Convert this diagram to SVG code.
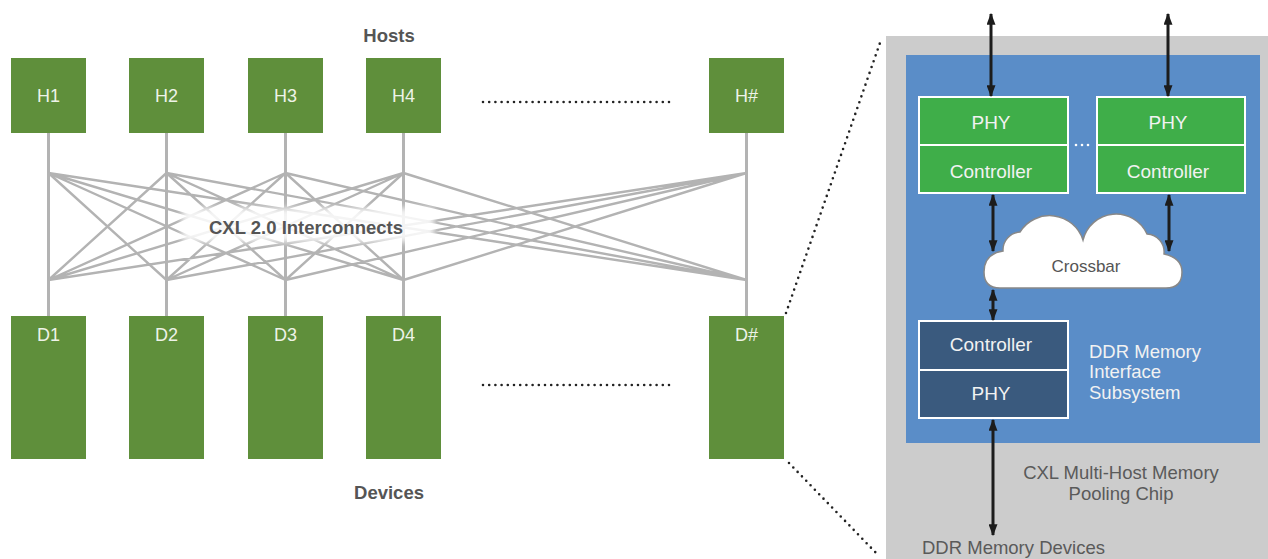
<svg xmlns="http://www.w3.org/2000/svg" width="1268" height="559" viewBox="0 0 1268 559">
<style>
.hb{fill:#5f8f3b}
.lbl{font-family:"Liberation Sans",Arial,sans-serif;font-size:18px;fill:#eef3e8;text-anchor:middle}
.hd{font-family:"Liberation Sans",Arial,sans-serif;font-size:18.5px;font-weight:bold;fill:#555;text-anchor:middle}
.vl{stroke:#b3b3b3;stroke-width:3;fill:none}
.dl{stroke:#b3b3b3;stroke-width:2.4;fill:none}
.dot{stroke:#222;stroke-width:2.6;stroke-linecap:round;stroke-dasharray:0 6.2;fill:none}
.arr{stroke:#1c1c1c;stroke-width:3;fill:none;marker-start:url(#ah);marker-end:url(#ah)}
.wt{font-family:"Liberation Sans",Arial,sans-serif;font-size:19px;fill:#f2f2f2;text-anchor:middle}
.ws{font-family:"Liberation Sans",Arial,sans-serif;font-size:18.5px;fill:#f2f2f2;text-anchor:start}
.gt{font-family:"Liberation Sans",Arial,sans-serif;font-size:18.5px;fill:#5a5a5a}
.gb{fill:#3fae49;stroke:#fff;stroke-width:2}
.db{fill:#3a5a7e;stroke:#fff;stroke-width:2}
</style>
<defs>
<marker id="ah" viewBox="0 0 10 10" refX="9" refY="5" markerWidth="4" markerHeight="3" orient="auto-start-reverse" markerUnits="strokeWidth" preserveAspectRatio="none">
<path d="M0 0 L10 5 L0 10 Z" fill="#1c1c1c"/>
</marker>
<filter id="blur" x="-20%" y="-50%" width="140%" height="200%"><feGaussianBlur stdDeviation="3"/></filter>
</defs>

<g id="connectors">
<path class="vl" d="M48.5 133V316M166.5 133V316M285.5 133V316M403.5 133V316M746.5 133V316"/>
<path class="dl" d="M48.5 173L166.5 280M48.5 173L285.5 280M48.5 173L403.5 280M48.5 173L746.5 280
M166.5 173L48.5 280M166.5 173L285.5 280M166.5 173L403.5 280M166.5 173L746.5 280
M285.5 173L48.5 280M285.5 173L166.5 280M285.5 173L403.5 280M285.5 173L746.5 280
M403.5 173L48.5 280M403.5 173L166.5 280M403.5 173L285.5 280M403.5 173L746.5 280
M746.5 173L48.5 280M746.5 173L166.5 280M746.5 173L285.5 280M746.5 173L403.5 280"/>
<path class="dot" d="M483 102H669M483 385H669"/>
<path class="dot" d="M786 313L881 40M789 463L879 556"/>
</g>

<g id="interconnect-label">
<rect x="182" y="208" width="252" height="34" fill="#fff" fill-opacity="0.85" filter="url(#blur)"/>
<text class="hd" x="306" y="234" font-size="19.5">CXL 2.0 Interconnects</text>
</g>

<text class="hd" x="389" y="42">Hosts</text>
<text class="hd" x="389" y="499">Devices</text>

<g id="H1"><rect class="hb" x="11" y="58" width="75" height="75"/><text class="lbl" x="48.5" y="102">H1</text></g>
<g id="H2"><rect class="hb" x="129" y="58" width="75" height="75"/><text class="lbl" x="166.5" y="102">H2</text></g>
<g id="H3"><rect class="hb" x="248" y="58" width="75" height="75"/><text class="lbl" x="285.5" y="102">H3</text></g>
<g id="H4"><rect class="hb" x="366" y="58" width="75" height="75"/><text class="lbl" x="403.5" y="102">H4</text></g>
<g id="Hn"><rect class="hb" x="709" y="58" width="75" height="75"/><text class="lbl" x="746.5" y="102">H#</text></g>

<g id="D1"><rect class="hb" x="11" y="316" width="75" height="143"/><text class="lbl" x="48.5" y="341">D1</text></g>
<g id="D2"><rect class="hb" x="129" y="316" width="75" height="143"/><text class="lbl" x="166.5" y="341">D2</text></g>
<g id="D3"><rect class="hb" x="248" y="316" width="75" height="143"/><text class="lbl" x="285.5" y="341">D3</text></g>
<g id="D4"><rect class="hb" x="366" y="316" width="75" height="143"/><text class="lbl" x="403.5" y="341">D4</text></g>
<g id="Dn"><rect class="hb" x="709" y="316" width="75" height="143"/><text class="lbl" x="746.5" y="341">D#</text></g>

<g id="chip">
<rect x="886" y="36" width="382" height="523" fill="#cccccc"/>
<rect x="906" y="55" width="354" height="388" fill="#5a8dc8"/>
<text class="gt" x="1121" y="479" text-anchor="middle">CXL Multi-Host Memory</text>
<text class="gt" x="1121" y="500" text-anchor="middle">Pooling Chip</text>
</g>

<g id="cxl-port-1">
<rect class="gb" x="919" y="97" width="149" height="48"/>
<rect class="gb" x="919" y="145" width="149" height="48"/>
<text class="wt" x="991" y="129">PHY</text>
<text class="wt" x="991" y="178">Controller</text>
</g>
<g id="cxl-port-2">
<rect class="gb" x="1097" y="97" width="148" height="48"/>
<rect class="gb" x="1097" y="145" width="148" height="48"/>
<text class="wt" x="1168" y="129">PHY</text>
<text class="wt" x="1168" y="178">Controller</text>
</g>
<g id="ellipsis" fill="#fff"><circle cx="1076" cy="145" r="1.3"/><circle cx="1082" cy="145" r="1.3"/><circle cx="1088" cy="145" r="1.3"/></g>

<g id="crossbar">
<path d="M1000 288Q984 288 984 272Q984 254 1003 251A18 18 0 0 1 1020 232A35 35 0 0 1 1083 240A34 34 0 0 1 1147 234A18 18 0 0 1 1164 254Q1182 258 1182 272Q1182 288 1166 288Z" fill="#fff" stroke="#888" stroke-width="1.5"/>
<text x="1086" y="272" font-family="Liberation Sans,Arial,sans-serif" font-size="17" fill="#555" text-anchor="middle">Crossbar</text>
</g>

<g id="ddr-subsystem">
<rect class="db" x="919" y="321" width="149" height="49"/>
<rect class="db" x="919" y="370" width="149" height="48"/>
<text class="wt" x="991" y="351">Controller</text>
<text class="wt" x="991" y="400">PHY</text>
<text class="ws" x="1089" y="358">DDR Memory</text>
<text class="ws" x="1089" y="378">Interface</text>
<text class="ws" x="1089" y="399">Subsystem</text>
</g>

<text class="gt" x="922" y="554">DDR Memory Devices</text>

<g id="arrows">
<path class="arr" d="M991 14V96"/>
<path class="arr" d="M1168 14V96"/>
<path class="arr" d="M993 195V251"/>
<path class="arr" d="M1169 195V251"/>
<path class="arr" d="M993 290V320"/>
<path class="arr" d="M993 420V535"/>
</g>
</svg>
